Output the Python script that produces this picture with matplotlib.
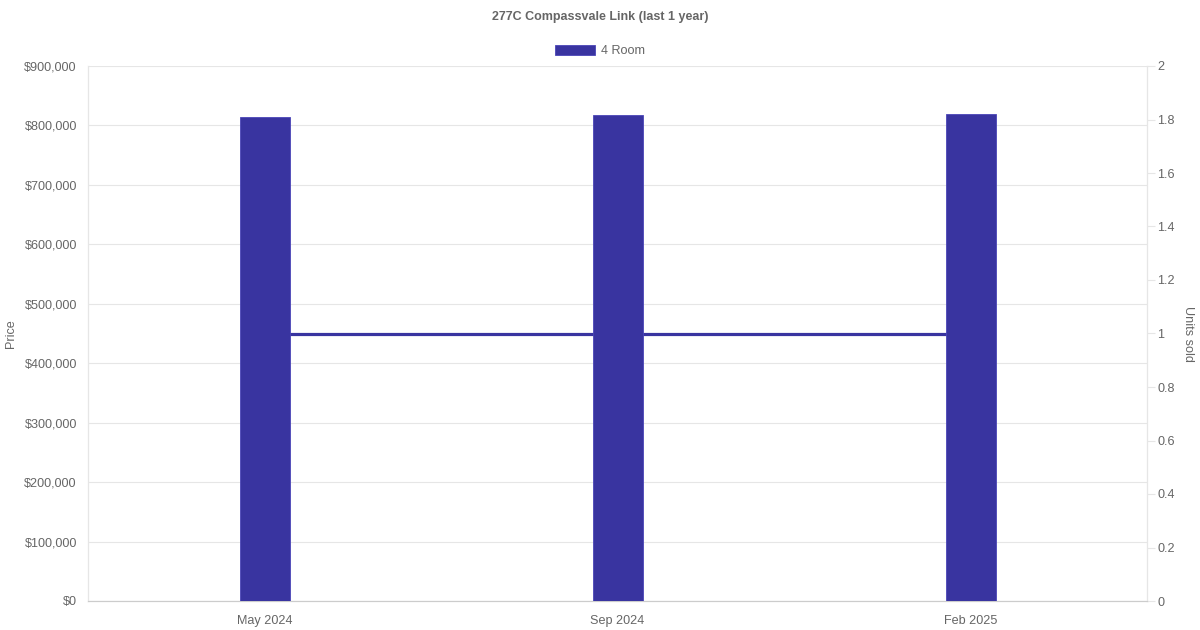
import matplotlib
matplotlib.use("Agg")
import matplotlib.pyplot as plt
from matplotlib.ticker import FuncFormatter, MultipleLocator
from matplotlib.patches import Patch

plt.rcParams['font.family'] = ['Liberation Sans', 'DejaVu Sans']

months = ["May 2024", "Sep 2024", "Feb 2025"]
prices = [815000, 818000, 819000]
units = [1, 1, 1]
series_name = "4 Room"
title = "277C Compassvale Link (last 1 year)"

color = "#3934a0"
text_c = "#666666"
grid_c = "#e6e6e6"
fs = 9.1

fig = plt.figure(figsize=(12, 6.3), dpi=100)
ax = fig.add_axes([88/1200, 1-601/630, (1147-88)/1200, (601-66)/630])
ax2 = ax.twinx()

x = list(range(len(months)))
ax.bar(x, prices, width=50/353, color=color, edgecolor="#4a45b8", linewidth=0.6, zorder=3)
ax2.plot(x, units, color=color, linewidth=2.3, zorder=1)

ax.set_zorder(ax2.get_zorder() + 1)
ax.patch.set_visible(False)

ax.set_xlim(-0.5, 2.5)
ax.set_ylim(0, 900000)
ax2.set_ylim(0, 2)
ax.yaxis.set_major_locator(MultipleLocator(100000))
ax2.yaxis.set_major_locator(MultipleLocator(0.2))
ax.yaxis.set_major_formatter(FuncFormatter(lambda v, p: "${:,.0f}".format(v)))
ax2.yaxis.set_major_formatter(FuncFormatter(lambda v, p: "{:g}".format(round(v, 1))))

ax.set_xticks(x)
ax.set_xticklabels(months)
ax.grid(axis='y', color=grid_c, linewidth=0.8, zorder=0)
ax.set_axisbelow(True)

ax.tick_params(axis='y', length=0, pad=8, labelsize=fs, labelcolor=text_c)
ax.tick_params(axis='x', length=0, pad=10, labelsize=fs, labelcolor=text_c)
ax2.tick_params(axis='y', length=5.8, color=grid_c, pad=1.5, labelsize=fs, labelcolor=text_c)

for a in (ax, ax2):
    a.spines['top'].set_visible(False)
    a.spines['left'].set_color(grid_c)
    a.spines['right'].set_color(grid_c)
    a.spines['bottom'].set_color("#cccccc")

ax.set_ylabel("Price", color=text_c, fontsize=fs, va='center')
ax2.set_ylabel("Units sold", color=text_c, fontsize=fs, rotation=270, va='center')
ax.yaxis.set_label_coords((11-88)/1059, 0.5)
ax2.yaxis.set_label_coords((1188-88)/1059, 0.5)

fig.text(0.5, 1-17/630, title, ha='center', va='center', fontsize=9, fontweight='bold', color=text_c)

handle = Patch(facecolor=color, edgecolor="#4a45b8", linewidth=0.6)
fig.legend([handle], [series_name], loc='center', bbox_to_anchor=(0.5, 1-51/630),
           frameon=False, fontsize=fs, labelcolor=text_c, handlelength=3.2, handleheight=0.9,
           handletextpad=0.5)

fig.savefig("out.png", dpi=100)
